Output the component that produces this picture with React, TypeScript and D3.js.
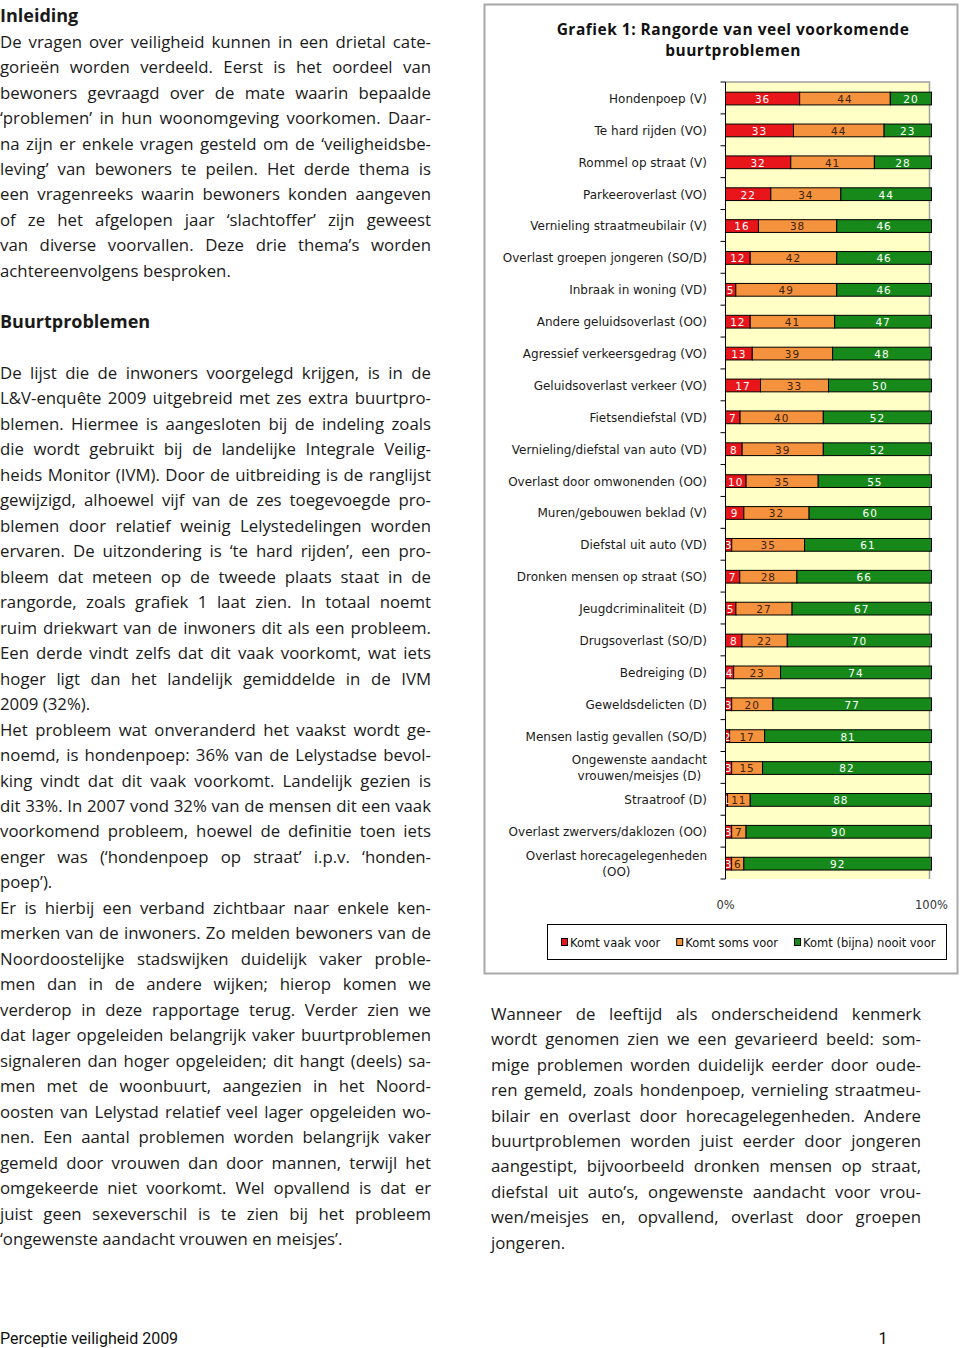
import { useEffect, useRef } from "react";
import * as d3 from "d3";

// problems, in the order of the chart (top to bottom)
const categories = [
  "Hondenpoep (V)",
  "Te hard rijden (VO)",
  "Rommel op straat (V)",
  "Parkeeroverlast (VO)",
  "Vernieling straatmeubilair (V)",
  "Overlast groepen jongeren (SO/D)",
  "Inbraak in woning (VD)",
  "Andere geluidsoverlast (OO)",
  "Agressief verkeersgedrag (VO)",
  "Geluidsoverlast verkeer (VO)",
  "Fietsendiefstal (VD)",
  "Vernieling/diefstal van auto (VD)",
  "Overlast door omwonenden (OO)",
  "Muren/gebouwen beklad (V)",
  "Diefstal uit auto (VD)",
  "Dronken mensen op straat (SO)",
  "Jeugdcriminaliteit (D)",
  "Drugsoverlast (SO/D)",
  "Bedreiging (D)",
  "Geweldsdelicten (D)",
  "Mensen lastig gevallen (SO/D)",
  "Ongewenste aandacht\nvrouwen/meisjes (D)",
  "Straatroof (D)",
  "Overlast zwervers/daklozen (OO)",
  "Overlast horecagelegenheden\n(OO)",
];

const vaak = [36, 33, 32, 22, 16, 12, 5, 12, 13, 17, 7, 8, 10, 9, 3, 7, 5, 8, 4, 3, 2, 3, 1, 3, 3];
const soms = [44, 44, 41, 34, 38, 42, 49, 41, 39, 33, 40, 39, 35, 32, 35, 28, 27, 22, 23, 20, 17, 15, 11, 7, 6];
const nooit = [20, 23, 28, 44, 46, 46, 46, 47, 48, 50, 52, 52, 55, 60, 61, 66, 67, 70, 74, 77, 81, 82, 88, 90, 92];

const seriesKeys = ["vaak", "soms", "nooit"];
const legendLabels = ["Komt vaak voor", "Komt soms voor", "Komt (bijna) nooit voor"];
const axisLabels = ["0%", "100%"];
const titleLines = ["Grafiek 1: Rangorde van veel voorkomende", "buurtproblemen"];

// page text
const introLines = [
  "De vragen over veiligheid kunnen in een drietal cate-",
  "gorieën worden verdeeld. Eerst is het oordeel van",
  "bewoners gevraagd over de mate waarin bepaalde",
  "‘problemen’ in hun woonomgeving voorkomen. Daar-",
  "na zijn er enkele vragen gesteld om de ‘veiligheidsbe-",
  "leving’ van bewoners te peilen. Het derde thema is",
  "een vragenreeks waarin bewoners konden aangeven",
  "of ze het afgelopen jaar ‘slachtoffer’ zijn geweest",
  "van diverse voorvallen. Deze drie thema’s worden",
  "achtereenvolgens besproken.",
];
const buurtPar1 = [
  "De lijst die de inwoners voorgelegd krijgen, is in de",
  "L&V-enquête 2009 uitgebreid met zes extra buurtpro-",
  "blemen. Hiermee is aangesloten bij de indeling zoals",
  "die wordt gebruikt bij de landelijke Integrale Veilig-",
  "heids Monitor (IVM). Door de uitbreiding is de ranglijst",
  "gewijzigd, alhoewel vijf van de zes toegevoegde pro-",
  "blemen door relatief weinig Lelystedelingen worden",
  "ervaren. De uitzondering is ‘te hard rijden’, een pro-",
  "bleem dat meteen op de tweede plaats staat in de",
  "rangorde, zoals grafiek 1 laat zien. In totaal noemt",
  "ruim driekwart van de inwoners dit als een probleem.",
  "Een derde vindt zelfs dat dit vaak voorkomt, wat iets",
  "hoger ligt dan het landelijk gemiddelde in de IVM",
  "2009 (32%).",
];
const buurtPar2 = [
  "Het probleem wat onveranderd het vaakst wordt ge-",
  "noemd, is hondenpoep: 36% van de Lelystadse bevol-",
  "king vindt dat dit vaak voorkomt. Landelijk gezien is",
  "dit 33%. In 2007 vond 32% van de mensen dit een vaak",
  "voorkomend probleem, hoewel de definitie toen iets",
  "enger was (‘hondenpoep op straat’ i.p.v. ‘honden-",
  "poep’).",
];
const buurtPar3 = [
  "Er is hierbij een verband zichtbaar naar enkele ken-",
  "merken van de inwoners. Zo melden bewoners van de",
  "Noordoostelijke stadswijken duidelijk vaker proble-",
  "men dan in de andere wijken; hierop komen we",
  "verderop in deze rapportage terug. Verder zien we",
  "dat lager opgeleiden belangrijk vaker buurtproblemen",
  "signaleren dan hoger opgeleiden; dit hangt (deels) sa-",
  "men met de woonbuurt, aangezien in het Noord-",
  "oosten van Lelystad relatief veel lager opgeleiden wo-",
  "nen. Een aantal problemen worden belangrijk vaker",
  "gemeld door vrouwen dan door mannen, terwijl het",
  "omgekeerde niet voorkomt. Wel opvallend is dat er",
  "juist geen sexeverschil is te zien bij het probleem",
  "‘ongewenste aandacht vrouwen en meisjes’.",
];
const rightLines = [
  "Wanneer de leeftijd als onderscheidend kenmerk",
  "wordt genomen zien we een gevarieerd beeld: som-",
  "mige problemen worden duidelijk eerder door oude-",
  "ren gemeld, zoals hondenpoep, vernieling straatmeu-",
  "bilair en overlast door horecagelegenheden. Andere",
  "buurtproblemen worden juist eerder door jongeren",
  "aangestipt, bijvoorbeeld dronken mensen op straat,",
  "diefstal uit auto’s, ongewenste aandacht voor vrou-",
  "wen/meisjes en, opvallend, overlast door groepen",
  "jongeren.",
];
const footerLeft = "Perceptie veiligheid 2009";
const footerRight = "1";

const colors = ["#E8161B", "#F5923E", "#17891A"];
const labelColors = ["#ffffff", "#3b2200", "#ffffff"];

const bodyFont = "'Open Sans', sans-serif";
const chartFont = "'DejaVu Sans', sans-serif";

function draw(svgEl) {
  const svg = d3.select(svgEl);
  svg.selectAll("*").remove();

  svg.append("rect").attr("width", 960).attr("height", 1348).attr("fill", "#fff");

  // ---- body text ----
  const lineH = 25.48;
  const leftTop = 47.6; // baseline of first body line

  const txt = svg.append("g").attr("font-family", bodyFont).attr("font-size", 16.8).attr("fill", "#1a1a1a");

  function paragraph(lines, x0, width, row0, top) {
    lines.forEach((line, i) => {
      const t = txt.append("text")
        .attr("x", x0)
        .attr("y", top + (row0 + i) * lineH)
        .text(line);
      if (i < lines.length - 1) {
        const w = t.node().getComputedTextLength();
        const spaces = line.split(" ").length - 1;
        if (spaces > 0) t.attr("word-spacing", (width - w) / spaces);
      }
    });
  }

  function heading(label, row) {
    txt.append("text")
      .attr("x", 0)
      .attr("y", leftTop + row * lineH)
      .attr("font-size", 18)
      .attr("font-weight", "bold")
      .text(label);
  }

  heading("Inleiding", -1);
  paragraph(introLines, 0, 431, 0, leftTop);
  heading("Buurtproblemen", 11);
  paragraph(buurtPar1, 0, 431, 13, leftTop);
  paragraph(buurtPar2, 0, 431, 27, leftTop);
  paragraph(buurtPar3, 0, 431, 34, leftTop);
  paragraph(rightLines, 491, 430, 0, 1019.6);

  svg.append("text")
    .attr("x", 0).attr("y", 1343.5)
    .attr("font-family", "'Liberation Sans Narrow', Roboto, sans-serif")
    .attr("font-size", 16)
    .attr("fill", "#111")
    .text(footerLeft);
  svg.append("text")
    .attr("x", 883).attr("y", 1343.5)
    .attr("text-anchor", "middle")
    .attr("font-family", "'Liberation Sans Narrow', Roboto, sans-serif")
    .attr("font-size", 16)
    .attr("fill", "#111")
    .text(footerRight);

  // ---- chart box ----
  const chart = svg.append("g").attr("font-family", chartFont);

  chart.append("rect")
    .attr("x", 484.5).attr("y", 4.5)
    .attr("width", 473).attr("height", 969)
    .attr("fill", "#fff")
    .attr("stroke", "#a8a8a8")
    .attr("stroke-width", 2);

  chart.append("g")
    .selectAll("text")
    .data(titleLines)
    .join("text")
    .attr("x", 733)
    .attr("y", (d, i) => 34.5 + i * 21)
    .attr("text-anchor", "middle")
    .attr("font-family", bodyFont)
    .attr("font-weight", "bold")
    .attr("font-size", 15.5)
    .attr("letter-spacing", 0.5)
    .attr("fill", "#111")
    .text(d => d);

  const rows = categories.map((c, i) => ({ name: c, vaak: vaak[i], soms: soms[i], nooit: nooit[i] }));
  const stacked = d3.stack().keys(seriesKeys).offset(d3.stackOffsetExpand)(rows);

  const x = d3.scaleLinear([0, 1], [725.5, 931.5]);
  const y = d3.scaleBand(categories, [82, 879]).paddingInner(0.6).paddingOuter(0.3);

  // plot area
  chart.append("rect")
    .attr("x", x(0)).attr("y", 82)
    .attr("width", x(1) - x(0) - 2).attr("height", 879 - 82)
    .attr("fill", "#FFFFC6");
  chart.append("path")
    .attr("d", `M${x(0)},82H${x(1) - 2}V879`)
    .attr("fill", "none")
    .attr("stroke", "#a0a0a0")
    .attr("stroke-width", 1.5);

  // bars
  const layer = chart.append("g")
    .selectAll("g")
    .data(stacked)
    .join("g")
    .attr("fill", (d, i) => colors[i]);

  layer.selectAll("rect")
    .data(d => d)
    .join("rect")
    .attr("x", d => x(d[0]))
    .attr("y", d => y(d.data.name) + 0.6)
    .attr("width", d => x(d[1]) - x(d[0]))
    .attr("height", y.bandwidth())
    .attr("stroke", "#000")
    .attr("stroke-width", 1);

  // value labels
  stacked.forEach((s, si) => {
    chart.append("g")
      .selectAll("text")
      .data(s)
      .join("text")
      .attr("x", d => (x(d[0]) + x(d[1])) / 2)
      .attr("y", d => y(d.data.name) + y.bandwidth() / 2 + 5)
      .attr("text-anchor", "middle")
      .attr("font-size", 10.5)
      .attr("letter-spacing", 1)
      .attr("fill", labelColors[si])
      .text(d => d.data[s.key]);
  });

  // axis line and ticks
  const ax = chart.append("g").attr("stroke", "#000").attr("stroke-width", 1);
  ax.append("line")
    .attr("x1", x(0)).attr("x2", x(0))
    .attr("y1", 82).attr("y2", 879);
  ax.selectAll("line.tick")
    .data(d3.range(categories.length + 1))
    .join("line")
    .attr("class", "tick")
    .attr("x1", x(0) - 5).attr("x2", x(0))
    .attr("y1", i => 82 + i * y.step())
    .attr("y2", i => 82 + i * y.step());

  // category labels
  categories.forEach(name => {
    const lines = name.split("\n");
    const cy = y(name) + y.bandwidth() / 2;
    const g = chart.append("g").attr("font-size", 12).attr("fill", "#1a1a1a");
    if (lines.length === 1) {
      g.append("text")
        .attr("x", 707).attr("y", cy + 5)
        .attr("text-anchor", "end")
        .text(name);
    } else {
      const ts = lines.map((l, i) =>
        g.append("text")
          .attr("y", cy + 5 + (i - (lines.length - 1) / 2) * 16)
          .attr("text-anchor", "middle")
          .text(l));
      const maxW = d3.max(ts, t => t.node().getComputedTextLength());
      ts.forEach(t => t.attr("x", 707 - maxW / 2));
    }
  });

  // x labels
  chart.append("g")
    .selectAll("text")
    .data(axisLabels)
    .join("text")
    .attr("x", (d, i) => x(i))
    .attr("y", 909)
    .attr("text-anchor", "middle")
    .attr("font-size", 11.5)
    .attr("fill", "#333")
    .text(d => d);

  // legend
  chart.append("rect")
    .attr("x", 547.5).attr("y", 924.5)
    .attr("width", 399).attr("height", 35)
    .attr("fill", "#fff")
    .attr("stroke", "#000");

  let lx = 561;
  legendLabels.forEach((label, i) => {
    chart.append("rect")
      .attr("x", lx + 0.5).attr("y", 938.5)
      .attr("width", 6).attr("height", 7)
      .attr("fill", colors[i])
      .attr("stroke", "#000");
    const t = chart.append("text")
      .attr("x", lx + 9).attr("y", 946.5)
      .attr("font-size", 11.5)
      .attr("fill", "#111")
      .text(label);
    lx += 9 + t.node().getComputedTextLength() + 16;
  });
}

export default function App() {
  const ref = useRef(null);
  useEffect(() => {
    draw(ref.current);
    if (document.fonts && document.fonts.ready) {
      document.fonts.ready.then(() => draw(ref.current));
    }
  }, []);
  return (
    <svg
      ref={ref}
      width={960}
      height={1348}
      style={{ position: "absolute", left: 0, top: 0, display: "block" }}
    />
  );
}
